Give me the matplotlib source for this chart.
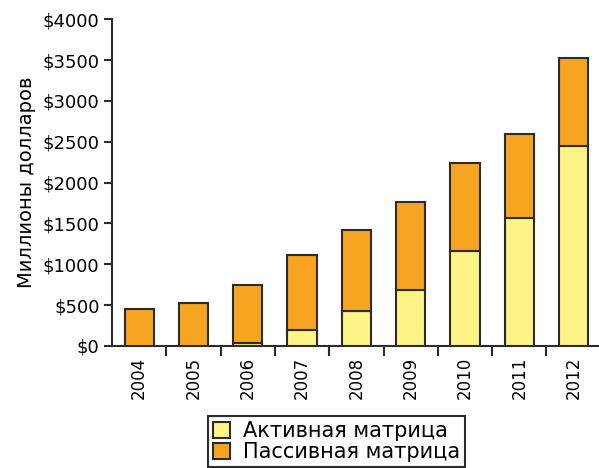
import matplotlib
matplotlib.use('Agg')
import matplotlib.pyplot as plt
import numpy as np

years = ['2004', '2005', '2006', '2007', '2008', '2009', '2010', '2011', '2012']
active = [0, 0, 40, 200, 425, 680, 1160, 1560, 2450]
total = [450, 530, 745, 1110, 1420, 1765, 2240, 2600, 3520]
passive = [t - a for t, a in zip(total, active)]

yellow = '#FDF386'
orange = '#F7A520'
edge = '#2b2b2b'

plt.rcParams['font.family'] = 'DejaVu Sans'

fig = plt.figure(figsize=(5.99, 4.68), dpi=100)
ax = fig.add_axes([0.187, 0.261, 0.816, 0.698])

x = np.arange(len(years))
ax.bar(x, active, width=0.54, color=yellow, edgecolor=edge, linewidth=1.5,
       label='Активная матрица', zorder=3)
ax.bar(x, passive, width=0.54, bottom=active, color=orange, edgecolor=edge,
       linewidth=1.5, label='Пассивная матрица', zorder=3)

ax.set_xlim(-0.5, len(years) - 0.5)
ax.set_ylim(0, 4000)
ax.set_yticks(range(0, 4001, 500))
ax.set_yticklabels(['$%d' % v for v in range(0, 4001, 500)], fontsize=13)

# years sit between the tick marks, ticks at slot boundaries
ax.set_xticks(x + 0.5)
ax.set_xticklabels([])
ax.set_xticks(x, minor=True)
ax.set_xticklabels(years, minor=True, rotation=90, fontsize=12)
ax.tick_params(axis='x', which='minor', length=0, pad=8)
ax.tick_params(axis='x', which='major', length=7, width=1.5, direction='out', color=edge)
ax.tick_params(axis='y', length=6, width=1.5, color=edge, pad=3)

for s in ['top', 'right']:
    ax.spines[s].set_visible(False)
for s in ['left', 'bottom']:
    ax.spines[s].set_linewidth(1.5)
    ax.spines[s].set_color(edge)

ax.set_ylabel('Миллионы долларов', fontsize=14, labelpad=5)

leg = fig.legend(loc='upper center', bbox_to_anchor=(0.562, 0.134), fontsize=15,
                 frameon=True, fancybox=False, framealpha=1, edgecolor=edge,
                 handlelength=0.8, handleheight=0.8, handletextpad=0.6,
                 borderpad=0.25, labelspacing=0.05)
leg.get_frame().set_linewidth(1.5)

fig.savefig('out.png', dpi=100)
